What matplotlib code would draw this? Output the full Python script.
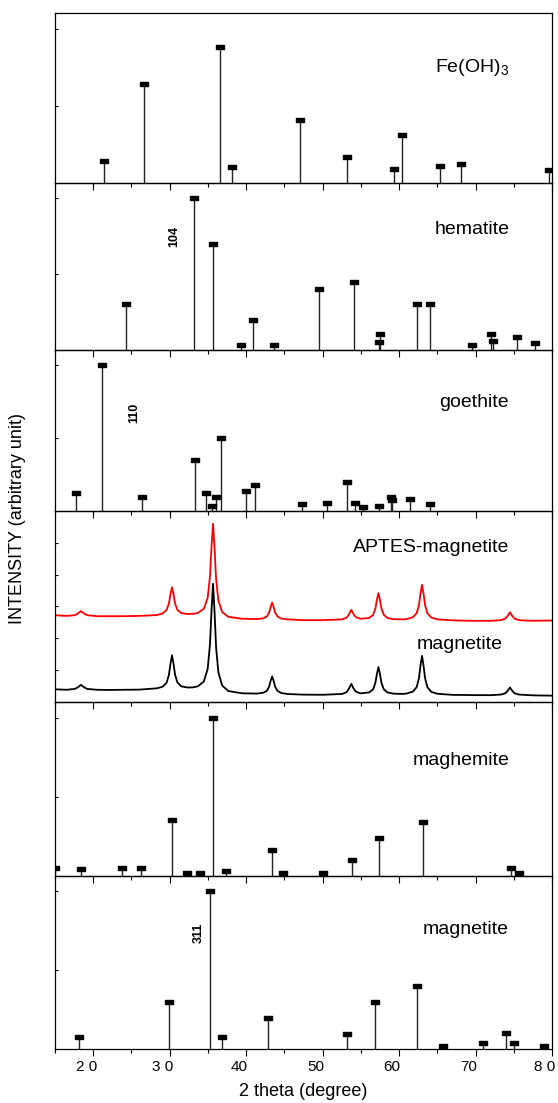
import matplotlib.pyplot as plt
from matplotlib.path import Path
from matplotlib.transforms import ScaledTranslation

plt.rcParams['font.family'] = ['Liberation Sans', 'DejaVu Sans']
plt.rcParams['mathtext.fontset'] = 'custom'
plt.rcParams['mathtext.rm'] = 'Liberation Sans'

# reference patterns (2 theta, relative intensity)
feoh3_pos = [21.4, 26.6, 36.6, 38.2, 47.1, 53.2, 59.3, 60.4, 65.3, 68.1, 79.6]
feoh3_int = [14, 64, 88, 10, 41, 17, 9, 31, 11, 12, 8]

hematite_pos = [24.3, 33.2, 35.6, 39.3, 40.9, 43.6, 49.5, 54.1, 57.5, 57.4,
                62.4, 64.0, 69.6, 72.0, 72.3, 75.4, 77.8]
hematite_int = [30, 100, 70, 3, 20, 3, 40, 45, 10.5, 5.5, 30, 30, 3, 10.5, 6, 8.5, 4.5]

goethite_pos = [17.8, 21.2, 26.4, 33.3, 34.7, 35.5, 36.1, 36.7, 40.0, 41.2,
                47.3, 50.6, 53.2, 54.2, 55.3, 57.4, 59.0, 59.1, 61.4, 64.0]
goethite_int = [12, 100, 9.5, 35, 12, 3.5, 9.5, 50, 14, 18,
                4.5, 5.5, 20, 5.5, 2.5, 3.5, 9.5, 7.5, 8, 4.5]

maghemite_pos = [15.0, 18.4, 23.8, 26.2, 30.3, 32.3, 34.0, 35.7, 37.4, 43.4,
                 44.8, 50.1, 53.8, 57.4, 63.1, 74.6, 75.7]
maghemite_int = [5, 4, 5, 5, 35, 2, 2, 100, 3, 16, 1.5, 2, 10, 24, 34, 5, 2]

magnetite_pos = [18.1, 29.9, 35.3, 36.9, 42.9, 53.2, 56.8, 62.4, 65.7, 71.0, 74.0, 75.0, 79.0]
magnetite_int = [8, 30, 100, 8, 20, 10, 30, 40, 2, 4, 10.5, 4, 2]

xrd_theta = [15.0, 16.5,
             17.6, 18.0, 18.4, 18.8, 19.2,
             20.5, 22.0, 24.0, 26.0,
             28.3, 29.1, 29.6, 29.9, 30.1, 30.3, 30.5, 30.7, 31.0, 31.5, 32.3,
             33.0,
             33.67, 34.47, 34.97, 35.27, 35.47, 35.67, 35.87, 36.07, 36.37, 36.87, 37.67,
             39.5,
             41.4, 42.2, 42.7, 43.0, 43.2, 43.4, 43.6, 43.8, 44.1, 44.6, 45.4,
             47.5, 50.0,
             52.55, 53.15, 53.45, 53.75, 54.05, 54.35, 54.95,
             56.1, 56.6, 56.9, 57.1, 57.3, 57.5, 57.7, 58.0, 58.5, 59.3,
             60.5,
             61.0, 61.8, 62.3, 62.6, 62.8, 63.0, 63.2, 63.4, 63.7, 64.2, 65.0,
             67.0, 69.5, 72.0,
             73.3, 73.9, 74.2, 74.5, 74.8, 75.1, 75.7,
             77.5, 80.0]
aptes_counts = [2720, 2700,
                2722, 2775, 2850, 2775, 2722,
                2690, 2690, 2690, 2700,
                2725, 2780, 2890, 3090, 3380, 3600, 3380, 3095, 2890, 2790, 2760,
                2765,
                2790, 2925, 3275, 3945, 4880, 5600, 4810, 3855, 3175, 2820, 2670,
                2610,
                2600, 2620, 2680, 2800, 2975, 3120, 2975, 2800, 2680, 2615, 2590,
                2565, 2565,
                2590, 2645, 2750, 2890, 2750, 2660, 2610,
                2635, 2735, 2930, 3205, 3420, 3205, 2930, 2735, 2630, 2595,
                2590,
                2600, 2655, 2785, 3040, 3400, 3680, 3400, 3040, 2785, 2650, 2590,
                2560, 2545, 2545,
                2565, 2615, 2700, 2815, 2700, 2615, 2565,
                2545, 2555]
magn_counts = [390, 375,
               402, 455, 530, 455, 402,
               375, 370, 375, 380,
               420, 475, 600, 845, 1190, 1460, 1195, 855, 610, 485, 447,
               450,
               482, 637, 1040, 1806, 2875, 3710, 2805, 1706, 918, 507, 335,
               264,
               255, 280, 339, 470, 653, 795, 653, 470, 339, 272, 242,
               222, 218,
               243, 303, 414, 560, 414, 315, 262,
               292, 390, 591, 871, 1090, 871, 591, 390, 290, 252,
               245,
               258, 315, 458, 741, 1134, 1442, 1134, 741, 458, 310, 250,
               215, 208, 205,
               224, 265, 343, 445, 343, 265, 224,
               200, 190]

tick_vals = [20, 30, 40, 50, 60, 70, 80]
tick_text = ['2 0', '3 0', '40', '50', '60', '70', '8 0']

W, H = 558, 1103
fig = plt.figure(figsize=(W / 100, H / 100), dpi=100)
x0, x1 = 55, 552
rows = [(13.3, 182.7), (182.7, 350), (350, 511), (511, 701.7), (701.7, 875.7), (875.7, 1049.3)]
axes = []
for top, bot in rows:
    ax = fig.add_axes([x0 / W, 1 - bot / H, (x1 - x0) / W, (bot - top) / H])
    ax.patch.set_visible(False)
    axes.append(ax)

bar = Path([(-1, -0.42), (1, -0.42), (1, 0.42), (-1, 0.42), (-1, -0.42)], closed=True)


def sticks(ax, pos, inten):
    ax.vlines(pos, 0, inten, color='#222222', lw=1.0)
    ax.plot(pos, inten, ls='none', marker=bar, ms=6, color='black')
    ax.set_ylim(0, 110)
    ax.set_yticks([50, 100])


sticks(axes[0], feoh3_pos, feoh3_int)
sticks(axes[1], hematite_pos, hematite_int)
sticks(axes[2], goethite_pos, goethite_int)
sticks(axes[4], maghemite_pos, maghemite_int)
sticks(axes[5], magnetite_pos, magnetite_int)

ax = axes[3]
ax.plot(xrd_theta, aptes_counts, color='red', lw=1.3)
ax.plot(xrd_theta, magn_counts, color='black', lw=1.3)
ax.set_ylim(0, 6000)
ax.set_yticks([1000, 2000, 3000, 4000, 5000])

lab = dict(ha='right', va='center', fontsize=14)
axes[0].text(74.4, 75, 'Fe(OH)$_3$', **lab)
axes[1].text(74.4, 79, 'hematite', **lab)
axes[2].text(74.4, 74, 'goethite', **lab)
axes[3].text(74.4, 4840, 'APTES-magnetite', **lab)
axes[3].text(73.6, 1790, 'magnetite', **lab)
axes[4].text(74.4, 73, 'maghemite', **lab)
axes[5].text(74.4, 76, 'magnetite', **lab)

hkl = dict(rotation=90, ha='center', va='center', fontsize=9, fontweight='bold')
axes[1].text(30.6, 74.5, '104', **hkl)
axes[2].text(25.4, 67, '110', **hkl)
axes[5].text(33.8, 74, '311', **hkl)

for ax in axes:
    ax.set_xlim(15, 80)
    ax.set_xticks(tick_vals)
    ax.set_xticks(range(15, 81, 10), minor=True)
    ax.tick_params(axis='x', which='major', direction='out', length=5, width=0.8)
    ax.tick_params(axis='x', which='minor', direction='out', length=3, width=0.8)
    ax.tick_params(axis='x', labelbottom=False)
    ax.tick_params(axis='y', direction='in', length=2.5, width=0.8, labelleft=False)
    for s in ax.spines.values():
        s.set_linewidth(0.9)

axes[5].tick_params(axis='x', labelbottom=True, labelsize=11, pad=3)
axes[5].set_xticklabels(tick_text)
for t in axes[5].get_xticklabels():
    t.set_transform(t.get_transform() + ScaledTranslation(-0.07, 0, fig.dpi_scale_trans))

fig.text(303.5 / W, 1 - 1092 / H, '2 theta (degree)', ha='center', va='center', fontsize=13)
fig.text(18 / W, 1 - 519 / H, 'INTENSITY (arbitrary unit)', ha='center', va='center',
         rotation=90, fontsize=13)

fig.savefig('out.png', dpi=100)
